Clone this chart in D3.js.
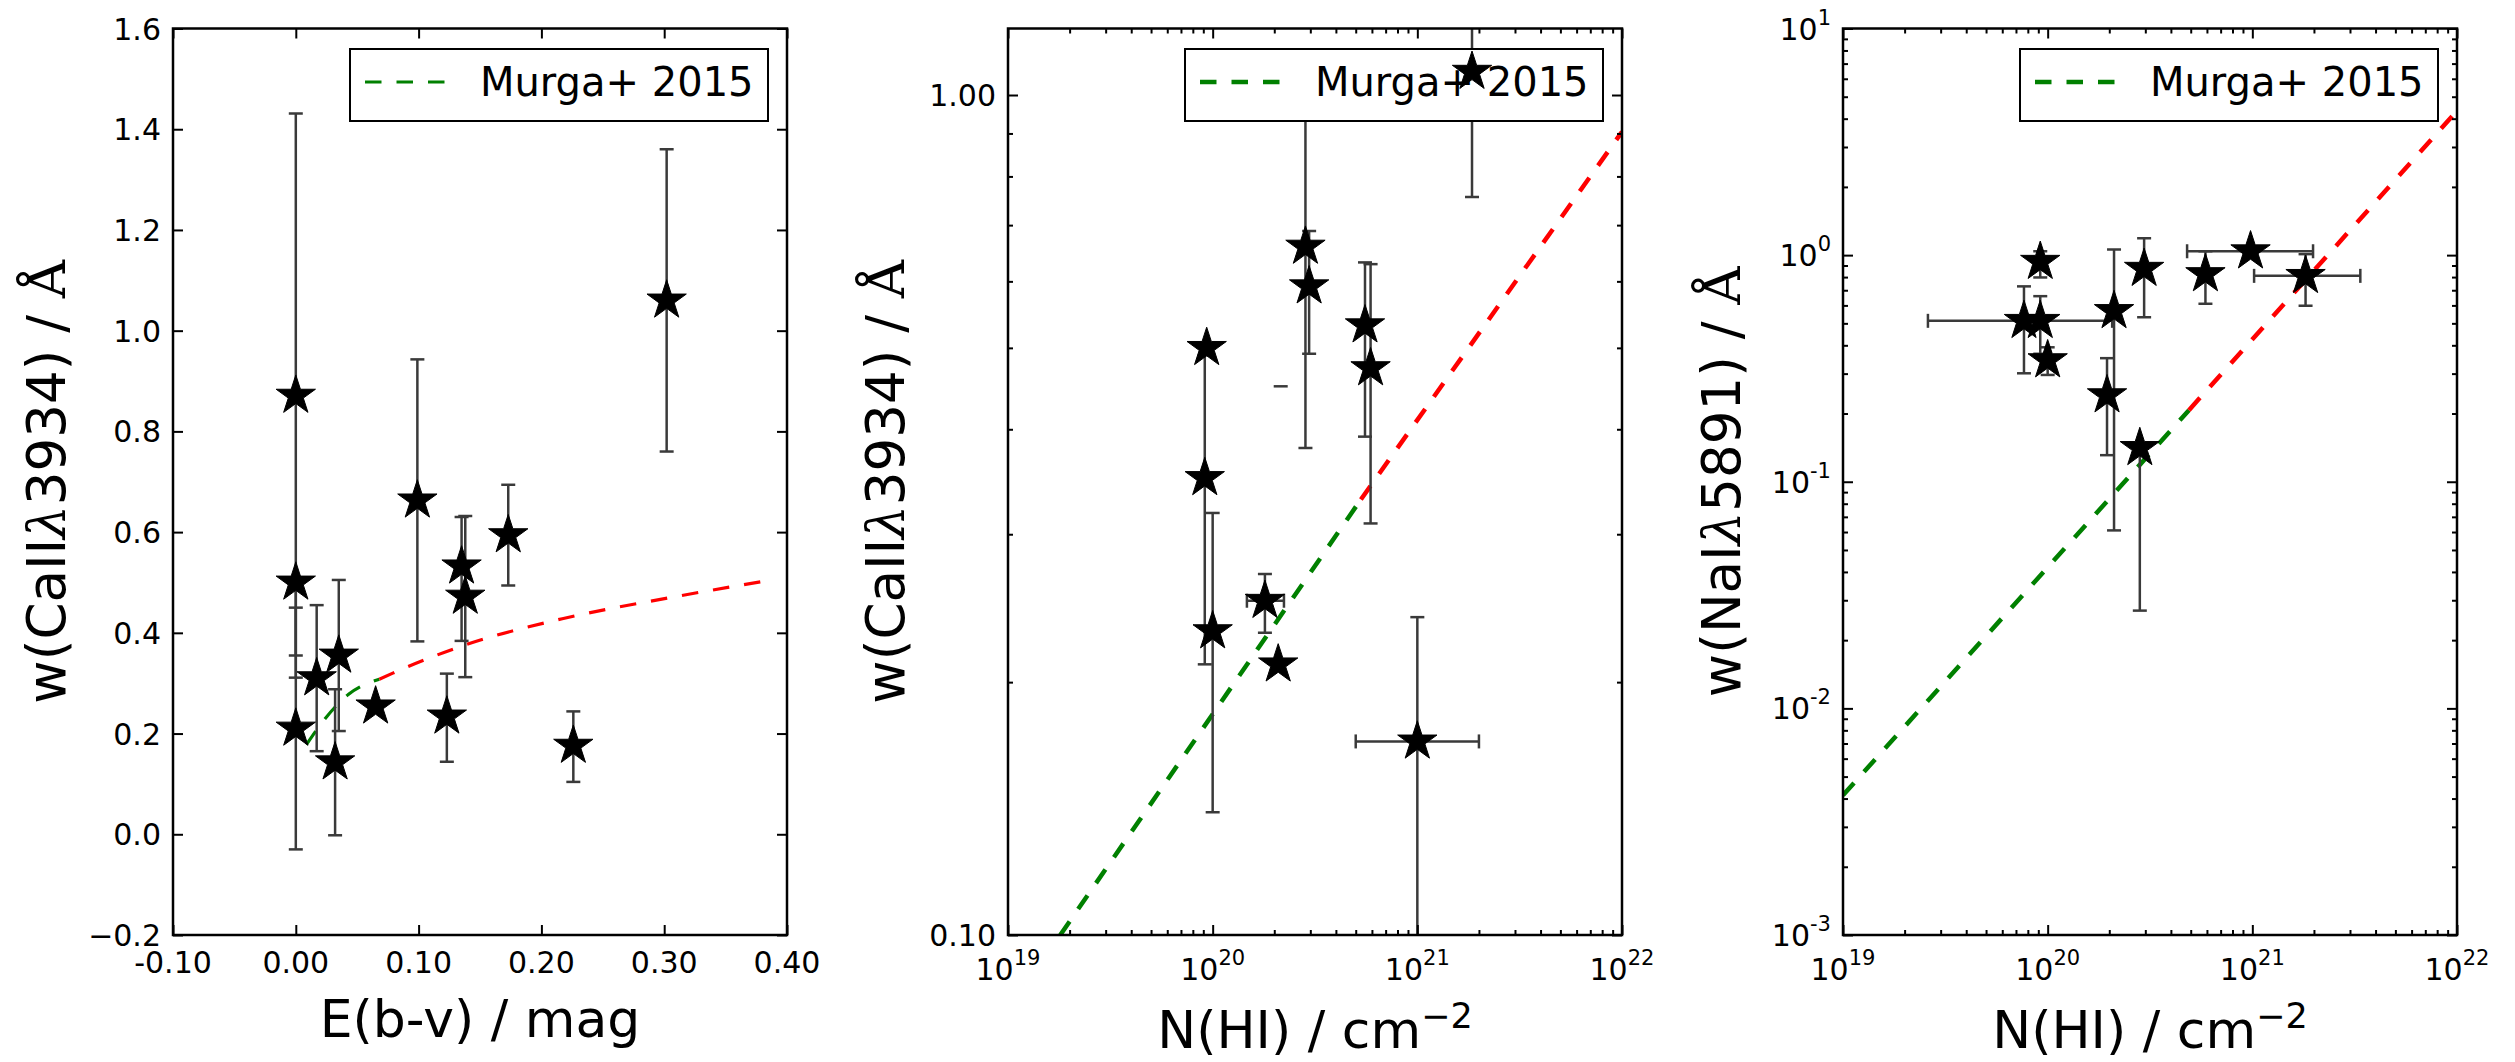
<!DOCTYPE html>
<html>
<head>
<meta charset="utf-8">
<script src="https://cdn.jsdelivr.net/npm/d3@7"></script>
<style>
  body { margin: 0; background: #fff; }
  svg text { font-family: "DejaVu Sans", sans-serif; fill: #000; white-space: pre; }
</style>
</head>
<body>
<svg id="chart" width="2515" height="1062"></svg>
<script>
/** Three-panel equivalent-width plot (CaII / NaI vs reddening and N(HI)) */

// ---- panel 1: w(CaII 3934) vs E(b-v) ----
var ebv     = [0.000, 0.000, 0.000, 0.017, 0.035, 0.032, 0.065, 0.099, 0.123, 0.135, 0.138, 0.173, 0.226, 0.302];
var caEbv   = [0.871, 0.500, 0.210, 0.310, 0.355, 0.143, 0.254, 0.663, 0.234, 0.532, 0.472, 0.594, 0.176, 1.060];
var caEbvLo = [0.560, 0.145, 0.240, 0.145, 0.150, 0.145, 0,     0.280, 0.090, 0.148, 0.160, 0.100, 0.072, 0.300];
var caEbvHi = [0.560, 0,     0.240, 0.145, 0.150, 0.145, 0,     0.280, 0.085, 0.098, 0.160, 0.100, 0.068, 0.300];
var murgaEbvX = [0.0086, 0.024, 0.043, 0.068];
var murgaEbvY = [0.178, 0.230, 0.278, 0.308];
var extEbvX   = [0.068, 0.079, 0.138, 0.217, 0.305, 0.390];
var extEbvY   = [0.308, 0.320, 0.376, 0.428, 0.470, 0.506];
var ebvTicks      = [-0.1, 0, 0.1, 0.2, 0.3, 0.4];
var ebvTickLabels = ['-0.10', '0.00', '0.10', '0.20', '0.30', '0.40'];
var caTicks      = [-0.2, 0, 0.2, 0.4, 0.6, 0.8, 1.0, 1.2, 1.4, 1.6];
var caTickLabels = ['\u22120.2', '0.0', '0.2', '0.4', '0.6', '0.8', '1.0', '1.2', '1.4', '1.6'];

// ---- panel 2: w(CaII 3934) vs N(HI) ----
var nhiCa   = [0.935e20, 0.915e20, 1.00e20, 1.80e20, 2.09e20, 2.84e20, 2.96e20, 5.55e20, 5.91e20, 1.00e21, 1.85e21];
var caNhi   = [0.500, 0.350, 0.230, 0.250, 0.210, 0.660, 0.592, 0.532, 0.473, 0.170, 1.066];
var caNhiLo = [0,     0.140, 0.090, 0.021, 0,     0.280, 0.100, 0.140, 0.164, 0.075, 0.310];
var caNhiHi = [0,     0.140, 0.088, 0.019, 0,     0.280, 0.097, 0.100, 0.156, 0.069, 0.310];
var nhiCaLo = [0, 0, 0, 0.33e20, 0, 0, 0, 0, 0, 0.50e21, 0];
var nhiCaHi = [0, 0, 0, 0.43e20, 0, 0, 0, 0, 0, 1.00e21, 0];
var strayCapX = [2.15e20];
var strayCapY = [0.45];
var murgaCaX = [1.8e19, 5.3e20];
var murgaCaY = [0.100, 0.330];
var extCaX   = [5.3e20, 1e22];
var extCaY   = [0.330, 0.904];
var caLogTicks      = [0.1, 1.0];
var caLogTickLabels = ['0.10', '1.00'];
var caLogMinor      = [0.2, 0.3, 0.4, 0.5, 0.6, 0.7, 0.8, 0.9];

// ---- panel 3: w(NaI 5891) vs N(HI) ----
var nhiNa   = [7.66e19, 9.2e19, 9.2e19, 1.00e20, 2.11e20, 1.95e20, 2.82e20, 2.96e20, 5.9e20, 9.8e20, 1.82e21];
var naNhi   = [0.513, 0.513, 0.935, 0.344, 0.567, 0.241, 0.141, 0.871, 0.825, 1.040, 0.810];
var naNhiLo = [0.212, 0.146, 0.138, 0.048, 0.506, 0.110, 0.114, 0.339, 0.215, 0,     0.212];
var naNhiHi = [0.215, 0.146, 0.105, 0.048, 0.493, 0.110, 0,     0.315, 0.215, 0,     0.200];
var nhiNaLo = [5.06e19, 0, 0, 0, 0, 0, 0, 0, 0, 0.50e21, 0.80e21];
var nhiNaHi = [1.30e20, 0, 0, 0, 0, 0, 0, 0, 0, 1.00e21, 1.55e21];
var murgaNaX = [1e19, 4.9e20];
var murgaNaY = [0.00414, 0.207];
var extNaX   = [4.9e20, 1e22];
var extNaY   = [0.207, 4.33];
var naTicks   = [1e-3, 1e-2, 1e-1, 1, 10];
var naTickExp = ['-3', '-2', '-1', '0', '1'];

var nhiTicks   = [1e19, 1e20, 1e21, 1e22];
var nhiTickExp = ['19', '20', '21', '22'];

var GREEN = '#008000', RED = '#ff0000', ERR = '#3a3a3a';
var DASH = '16.5,15';
var TOP = 28.5, BOTTOM = 935;
var svg = d3.select('#chart');
var defs = svg.append('defs');

function logMinor(lo, hi) {
  var out = [];
  for (var d = lo; d < hi; d++) for (var k = 2; k <= 9; k++) out.push(k * Math.pow(10, d));
  return out;
}

function drawPanel(p) {
  var x = p.x.range([p.left, p.right]);
  var y = p.y.range([BOTTOM, TOP]);
  var g = svg.append('g');

  defs.append('clipPath').attr('id', 'clip-' + p.id).append('rect')
    .attr('x', p.left).attr('y', TOP).attr('width', p.right - p.left).attr('height', BOTTOM - TOP);
  var plot = g.append('g').attr('clip-path', 'url(#clip-' + p.id + ')');

  // Fit lines (Murga+ 2015 in green, extrapolation in red)
  var line = d3.line().x(function(d) { return x(d[0]); }).y(function(d) { return y(d[1]); }).curve(d3.curveMonotoneX);
  [[p.fitX, p.fitY, GREEN], [p.extX, p.extY, RED]].forEach(function(f) {
    plot.append('path').datum(d3.zip(f[0], f[1])).attr('d', line)
      .attr('fill', 'none').attr('stroke', f[2]).attr('stroke-width', p.lw).attr('stroke-dasharray', DASH);
  });

  // Error bars
  var pts = p.px.map(function(v, i) {
    return { x: v, y: p.py[i], ylo: p.pyLo[i], yhi: p.pyHi[i],
      xlo: p.pxLo ? p.pxLo[i] : 0, xhi: p.pxHi ? p.pxHi[i] : 0 };
  });
  var eb = plot.append('g').attr('stroke', ERR).attr('stroke-width', 2.5);
  function seg(x1, y1, x2, y2) { eb.append('line').attr('x1', x1).attr('y1', y1).attr('x2', x2).attr('y2', y2); }
  var C = 7;
  pts.forEach(function(d) {
    var cx = x(d.x), cy = y(d.y);
    if (d.ylo || d.yhi) {
      var y0 = y(d.y - d.ylo), y1 = y(d.y + d.yhi);
      seg(cx, y0, cx, y1);
      if (d.ylo) seg(cx - C, y0, cx + C, y0);
      if (d.yhi) seg(cx - C, y1, cx + C, y1);
    }
    if (d.xlo || d.xhi) {
      var x0 = x(d.x - d.xlo), x1 = x(d.x + d.xhi);
      seg(x0, cy, x1, cy);
      if (d.xlo) seg(x0, cy - C, x0, cy + C);
      if (d.xhi) seg(x1, cy - C, x1, cy + C);
    }
  });
  if (p.capX) p.capX.forEach(function(v, i) { seg(x(v) - C, y(p.capY[i]), x(v) + C, y(p.capY[i])); });

  // Ticks, pointing inward on all four sides
  function ticks(axisFn, scale, vals, size, tx, ty) {
    if (!vals || !vals.length) return;
    var a = g.append('g').attr('transform', 'translate(' + tx + ',' + ty + ')')
      .call(axisFn(scale).tickValues(vals).tickSize(-size).tickFormat(''));
    a.select('.domain').remove();
    a.selectAll('line').attr('stroke', '#000').attr('stroke-width', 2);
  }
  [[p.xMajor, 10], [p.xMinor, 5]].forEach(function(t) {
    ticks(d3.axisBottom, x, t[0], t[1], 0, BOTTOM);
    ticks(d3.axisTop, x, t[0], t[1], 0, TOP);
  });
  [[p.yMajor, 10], [p.yMinor, 5]].forEach(function(t) {
    ticks(d3.axisLeft, y, t[0], t[1], p.left, 0);
    ticks(d3.axisRight, y, t[0], t[1], p.right, 0);
  });

  g.append('rect').attr('x', p.left).attr('y', TOP).attr('width', p.right - p.left).attr('height', BOTTOM - TOP)
    .attr('fill', 'none').attr('stroke', '#000').attr('stroke-width', 2.5);

  // Tick labels
  p.xMajor.forEach(function(v, i) {
    var t = g.append('text').attr('x', x(v)).attr('y', BOTTOM + (p.xExp ? 45 : 38))
      .attr('text-anchor', 'middle').attr('font-size', 30);
    if (p.xExp) { t.text('10'); t.append('tspan').attr('dy', -15).attr('font-size', 21).text(p.xExp[i]); }
    else t.text(p.xLabels[i]);
  });
  p.yMajor.forEach(function(v, i) {
    var t = g.append('text').attr('x', p.left - 12).attr('y', y(v) + 11)
      .attr('text-anchor', 'end').attr('font-size', 30);
    if (p.yExp) { t.text('10'); t.append('tspan').attr('dy', -15).attr('font-size', 21).text(p.yExp[i]); }
    else t.text(p.yLabels[i]);
  });

  // Axis labels
  var xl = g.append('text').attr('x', (p.left + p.right) / 2).attr('y', p.xlabY)
    .attr('text-anchor', 'middle').attr('font-size', 52).text(p.xlab[0]);
  if (p.xlab[1]) xl.append('tspan').attr('dy', -20).attr('font-size', 35).text(p.xlab[1]);

  var yl = g.append('text')
    .attr('transform', 'translate(' + (p.left - p.ylabOff) + ',' + ((TOP + BOTTOM) / 2) + ') rotate(-90)')
    .attr('text-anchor', 'middle').attr('font-size', 53);
  yl.append('tspan').text(p.ylab[0]);
  yl.append('tspan').attr('font-family', 'DejaVu Serif').attr('font-style', 'italic').text('\u03bb');
  yl.append('tspan').text(p.ylab[1]);
  yl.append('tspan').attr('font-family', 'DejaVu Serif').text('\u00c5');

  // Legend
  var lx = p.right - 19 - 418, ly = TOP + 20.5;
  g.append('rect').attr('x', lx).attr('y', ly).attr('width', 418).attr('height', 72)
    .attr('fill', '#fff').attr('stroke', '#000').attr('stroke-width', 2);
  g.append('line').attr('x1', lx + 15).attr('x2', lx + 96).attr('y1', ly + 33).attr('y2', ly + 33)
    .attr('stroke', GREEN).attr('stroke-width', p.lw).attr('stroke-dasharray', DASH);
  g.append('text').attr('x', lx + 130).attr('y', ly + 47).attr('font-size', 40).text('Murga+ 2015');

  // Star markers on top
  var star = d3.symbol(d3.symbolStar, 480)();
  g.append('g').attr('clip-path', 'url(#clip-' + p.id + ')')
    .selectAll('path').data(pts).join('path')
    .attr('d', star)
    .attr('transform', function(d) { return 'translate(' + x(d.x) + ',' + y(d.y) + ')'; })
    .attr('fill', '#000').attr('stroke', '#000').attr('stroke-width', 1);
}

drawPanel({
  id: 'ebv', left: 173, right: 787, lw: 3.2,
  x: d3.scaleLinear().domain([-0.1, 0.4]), y: d3.scaleLinear().domain([-0.2, 1.6]),
  px: ebv, py: caEbv, pyLo: caEbvLo, pyHi: caEbvHi,
  fitX: murgaEbvX, fitY: murgaEbvY, extX: extEbvX, extY: extEbvY,
  xMajor: ebvTicks, xLabels: ebvTickLabels, yMajor: caTicks, yLabels: caTickLabels,
  xlab: ['E(b-v) / mag'], xlabY: 1037,
  ylab: ['w(CaII', '3934) / '], ylabOff: 108
});

drawPanel({
  id: 'ca', left: 1008, right: 1622, lw: 4.5,
  x: d3.scaleLog().domain([1e19, 1e22]), y: d3.scaleLog().domain([0.1, 1.2]),
  px: nhiCa, py: caNhi, pyLo: caNhiLo, pyHi: caNhiHi, pxLo: nhiCaLo, pxHi: nhiCaHi,
  capX: strayCapX, capY: strayCapY,
  fitX: murgaCaX, fitY: murgaCaY, extX: extCaX, extY: extCaY,
  xMajor: nhiTicks, xExp: nhiTickExp, xMinor: logMinor(19, 22),
  yMajor: caLogTicks, yLabels: caLogTickLabels, yMinor: caLogMinor,
  xlab: ['N(HI) / cm', '\u22122'], xlabY: 1048,
  ylab: ['w(CaII', '3934) / '], ylabOff: 104
});

drawPanel({
  id: 'na', left: 1843, right: 2457, lw: 4.5,
  x: d3.scaleLog().domain([1e19, 1e22]), y: d3.scaleLog().domain([1e-3, 10]),
  px: nhiNa, py: naNhi, pyLo: naNhiLo, pyHi: naNhiHi, pxLo: nhiNaLo, pxHi: nhiNaHi,
  fitX: murgaNaX, fitY: murgaNaY, extX: extNaX, extY: extNaY,
  xMajor: nhiTicks, xExp: nhiTickExp, xMinor: logMinor(19, 22),
  yMajor: naTicks, yExp: naTickExp, yMinor: logMinor(-3, 1),
  xlab: ['N(HI) / cm', '\u22122'], xlabY: 1048,
  ylab: ['w(NaI', '5891) / '], ylabOff: 103
});
</script>
</body>
</html>
